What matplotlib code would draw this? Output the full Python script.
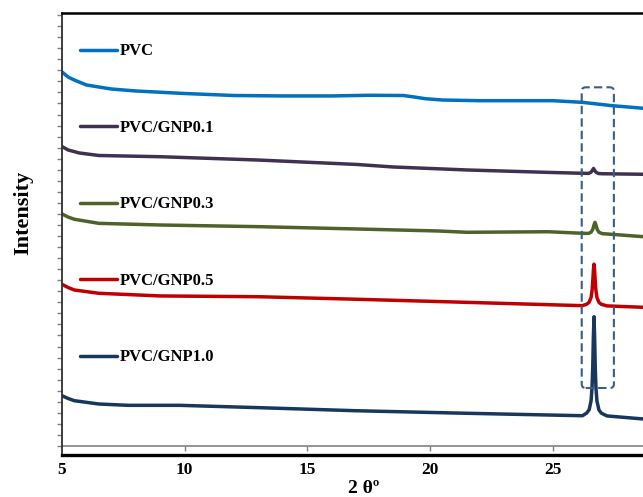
import numpy as np
import matplotlib
matplotlib.use("Agg")
import matplotlib.pyplot as plt
from matplotlib.patches import FancyBboxPatch

plt.rcParams['font.family'] = ['Liberation Serif', 'DejaVu Serif']

# XRD patterns, 2 theta (deg) vs intensity (counts)
pvc_x = [5.0, 5.25, 5.5, 6.0, 7.0, 8.0, 10.0, 12.0, 14.0, 16.0, 17.5, 18.9, 19.3, 19.8,
         20.5, 22.0, 25.0, 26.2, 27.4, 28.7]
pvc_y = [3385, 3339, 3312, 3267, 3231, 3213, 3190, 3172, 3168, 3168, 3174, 3172, 3160, 3143,
         3131, 3125, 3125, 3110, 3080, 3056]

gnp01_x = [5.0, 5.25, 5.7, 6.5, 9.0, 13.0, 17.0, 18.5, 21.5, 25.0, 26.2, 26.45, 26.55,
           26.62, 26.65, 26.68, 26.75, 26.85, 27.0, 28.7]
gnp01_y = [2710, 2679, 2652, 2629, 2618, 2588, 2548, 2525, 2498, 2475, 2468, 2467, 2478,
           2500, 2512, 2500, 2478, 2466, 2464, 2459]

gnp03_x = [5.0, 5.25, 5.5, 6.5, 9.0, 13.0, 17.0, 20.3, 21.5, 24.8, 26.2, 26.45, 26.55,
           26.62, 26.67, 26.71, 26.75, 26.8, 26.87, 27.0, 28.7]
gnp03_y = [2100, 2072, 2052, 2015, 2000, 1985, 1964, 1946, 1934, 1939, 1925, 1924, 1935,
           1960, 2000, 2024, 2000, 1960, 1935, 1922, 1894]

gnp05_x = [5.0, 5.25, 5.5, 6.5, 9.0, 13.0, 17.0, 21.5, 26.2, 26.37, 26.47, 26.55, 26.59,
           26.62, 26.645, 26.67, 26.695, 26.72, 26.75, 26.79, 26.87, 26.97, 27.2, 28.7]
gnp05_y = [1463, 1434, 1412, 1382, 1358, 1351, 1328, 1300, 1270, 1283, 1300, 1344, 1405,
           1492, 1590, 1646, 1590, 1492, 1405, 1344, 1300, 1282, 1268, 1255]

gnp10_x = [5.0, 5.25, 5.5, 6.5, 7.7, 9.8, 13.0, 17.0, 21.5, 26.2, 26.37, 26.47, 26.55,
           26.59, 26.62, 26.645, 26.67, 26.695, 26.72, 26.75, 26.79, 26.87, 26.97, 27.2, 28.7]
gnp10_y = [455, 430, 410, 380, 368, 368, 347, 319, 296, 274, 298, 327, 407,
           526, 722, 991, 1170, 991, 722, 526, 407, 327, 297, 272, 244]

series = [
    ("PVC", pvc_x, pvc_y, "#0070C0"),
    ("PVC/GNP0.1", gnp01_x, gnp01_y, "#403152"),
    ("PVC/GNP0.3", gnp03_x, gnp03_y, "#4F6228"),
    ("PVC/GNP0.5", gnp05_x, gnp05_y, "#C00000"),
    ("PVC/GNP1.0", gnp10_x, gnp10_y, "#17375E"),
]

x_ticks = [5, 10, 15, 20, 25]
box_x = (26.17, 27.48)
box_y = (525, 3246)

fig = plt.figure(figsize=(6.43, 4.97), dpi=100)
ax = fig.add_axes([62 / 643, 42 / 497, 581 / 643, 442 / 497])

for label, x, y, color in series:
    ax.plot(x, y, color=color, lw=2.5, label=label,
            solid_joinstyle='round', solid_capstyle='round')

ax.set_xlim(5, 28.666)
ax.set_ylim(-81.5, 3918.6)

# baseline (grey axis line) with small ticks hanging below it
ax.axhline(0, color='#808080', lw=1.2, zorder=1)
ax.vlines(x_ticks[1:], -45, 0, color='#808080', lw=1.0)

# dashed box around the graphite peak
w = box_x[1] - box_x[0]
h = box_y[1] - box_y[0]
box = FancyBboxPatch((box_x[0], box_y[0]), w, h,
                     boxstyle="round,pad=0,rounding_size=0.16",
                     mutation_aspect=222,
                     fill=False, edgecolor='#385D8A', lw=1.5,
                     linestyle=(0, (4, 2)), zorder=3)
ax.add_patch(box)

ax.set_xticks(x_ticks)
ax.set_xticklabels([str(t) for t in x_ticks], fontsize=12.5, fontweight='bold')
ax.tick_params(axis='x', length=0, pad=5)
ax.set_yticks(np.arange(0, 3901, 100))
ax.set_yticklabels([])
ax.tick_params(axis='y', direction='out', length=3.5, width=1, color='#808080')

ax.spines['right'].set_visible(False)
ax.spines['top'].set_linewidth(1.8)
ax.spines['bottom'].set_linewidth(2.4)
ax.spines['left'].set_linewidth(1.3)
ax.spines['left'].set_color('#303030')

leg = ax.legend(loc='upper left', bbox_to_anchor=(0.031, 0.931), frameon=False,
                prop={'weight': 'bold', 'size': 12}, handlelength=2.22,
                handletextpad=0.18, labelspacing=3.63, borderpad=0, borderaxespad=0)

fig.text(23 / 643, 1 - 213 / 497, "Intensity", rotation=90, ha='center', va='center',
         fontsize=16, fontweight='bold')
ax.text(17.3, -(493 - 455) / 442, "2 θº", transform=ax.get_xaxis_transform(),
        ha='center', va='baseline', fontsize=14, fontweight='bold')

fig.savefig("out.png", dpi=100)
